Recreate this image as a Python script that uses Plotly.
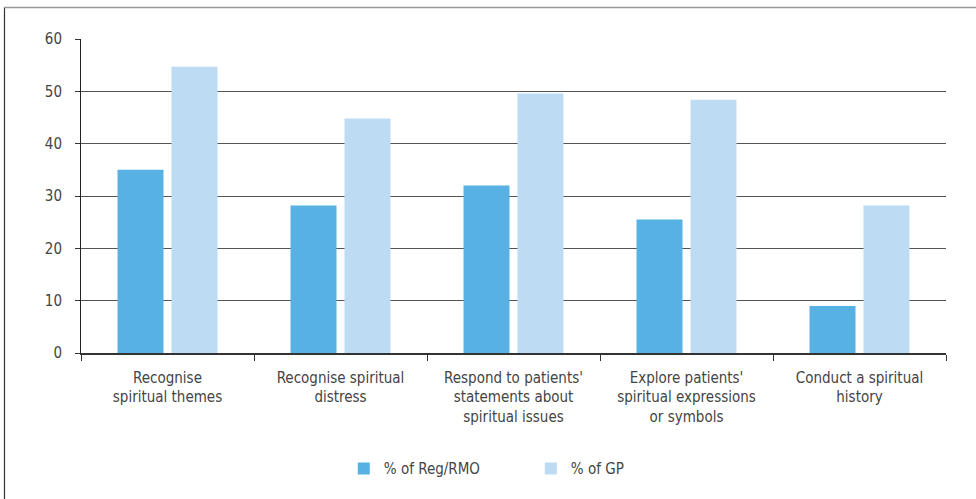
import plotly.graph_objects as go

categories = [
    "Recognise<br>spiritual themes",
    "Recognise spiritual<br>distress",
    "Respond to patients'<br>statements about<br>spiritual issues",
    "Explore patients'<br>spiritual expressions<br>or symbols",
    "Conduct a spiritual<br>history",
]
reg_rmo = [35, 28.2, 32, 25.5, 9]
gp = [54.7, 44.8, 49.6, 48.4, 28.2]
y_ticks = [0, 10, 20, 30, 40, 50, 60]

FONT = "DejaVu Sans Condensed, Liberation Sans Narrow, sans-serif"
TEXT = "#444444"

W, H = 976, 499
ML, MR, MT, MB = 81, 30, 39, 146

fig = go.Figure()
fig.add_trace(go.Bar(x=categories, y=reg_rmo, name="% of Reg/RMO",
                     marker=dict(color="#57b1e3", line=dict(width=0))))
fig.add_trace(go.Bar(x=categories, y=gp, name="% of GP",
                     marker=dict(color="#bddbf2", line=dict(width=0))))

# outer frame: dark left edge and grey top edge, in plot-area fractions
pw, ph = W - ML - MR, H - MT - MB
fx = lambda px: (px - ML) / pw
fy = lambda py: (H - MB - py) / ph
fig.add_shape(type="line", xref="paper", yref="paper",
              x0=fx(4.5), x1=fx(4.5), y0=fy(7), y1=fy(H + 5),
              line=dict(color="#333333", width=1.2))
fig.add_shape(type="line", xref="paper", yref="paper",
              x0=fx(4), x1=fx(W + 5), y0=fy(7.5), y1=fy(7.5),
              line=dict(color="#999999", width=1.5))

fig.update_layout(
    width=W, height=H,
    margin=dict(l=ML, r=MR, t=MT, b=MB, pad=0),
    paper_bgcolor="white", plot_bgcolor="white",
    barmode="group", bargap=0.376, bargroupgap=0.148,
    font=dict(family=FONT, size=15, color=TEXT),
    showlegend=True,
    legend=dict(orientation="h", x=0.52, xanchor="center",
                y=fy(468.7), yanchor="middle",
                font=dict(family=FONT, size=15, color=TEXT),
                entrywidth=142, entrywidthmode="pixels",
                bgcolor="rgba(0,0,0,0)"),
    xaxis=dict(
        showgrid=False, showline=True, linecolor="#333333", linewidth=1.5,
        ticks="outside", tickson="boundaries", ticklen=6, tickcolor="#333333",
        tickwidth=1, tickfont=dict(family=FONT, size=15, color=TEXT),
        ticklabelstandoff=10, fixedrange=True,
    ),
    yaxis=dict(
        range=[0, 60], tickvals=y_ticks, showgrid=True, gridcolor="#555555",
        gridwidth=1.3, zeroline=False, showline=True, linecolor="#222222",
        linewidth=1, ticks="outside", ticklen=5, tickcolor="#333333",
        tickfont=dict(family=FONT, size=15, color=TEXT), ticklabelstandoff=10,
        fixedrange=True,
    ),
)

fig.write_html("out.html")
